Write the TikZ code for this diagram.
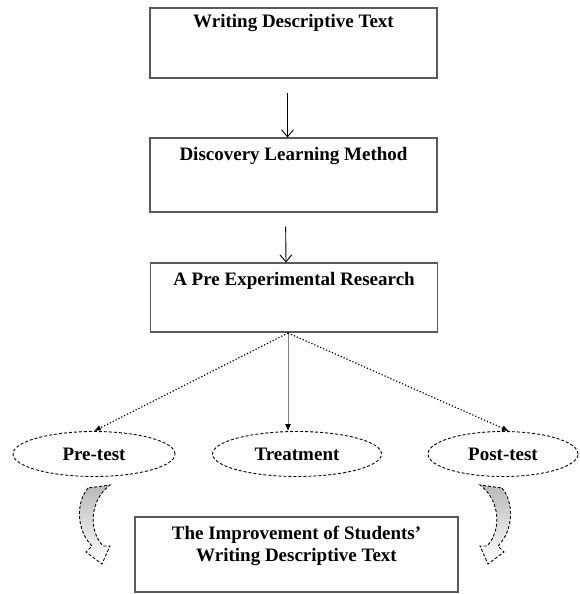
\documentclass[tikz,border=0pt]{standalone}
\usepackage{fontspec}
\setmainfont{Liberation Serif}
\usetikzlibrary{positioning,shapes.geometric,arrows.meta}

\begin{document}
\begin{tikzpicture}[x=1pt, y=-1pt,
    box/.style={rectangle, draw=black!65, line width=1.1pt, minimum width=287pt, minimum height=70pt, inner sep=0pt},
    title/.style={font=\fontsize{19}{22}\selectfont\bfseries},
    phase/.style={ellipse, draw, dash pattern=on 3pt off 2pt, line width=.9pt, minimum height=45pt, inner sep=0pt, font=\fontsize{19}{22}\selectfont\bfseries},
    flow/.style={line width=.9pt, -{Straight Barb[length=7pt,width=12pt]}, shorten <=14pt},
    split/.style={dotted, line width=1.2pt, -{Latex[length=7pt,width=6pt]}},
    stem/.style={draw=gray, line width=.8pt, -{Latex[black,length=7pt,width=6pt]}},
    curvy/.style={draw, dash pattern=on 3pt off 2pt, line width=.9pt, top color=gray!55, bottom color=white}]

    \useasboundingbox (0,0) rectangle (580,594);

    % Boxes of the research flow
    \node[box] (b1) at (293.5,43) {};
    \node[title, below=3pt of b1.north] (t1) {Writing Descriptive Text};
    \node[box, minimum height=74pt] (b2) at (293.5,175) {};
    \node[title, below=6pt of b2.north] (t2) {Discovery Learning Method};
    \node[box, minimum height=69pt] (b3) at (294,297.5) {};
    \node[title, below=6pt of b3.north] (t3) {A Pre Experimental Research};

    % The three phases
    \node[phase, minimum width=162pt] (pre) at (94,454) {Pre-test};
    \node[phase, minimum width=169pt] (treat) at (297,454) {Treatment};
    \node[phase, minimum width=150pt] (post) at (503,454) {Post-test};

    % Outcome
    \node[box, minimum width=323pt, minimum height=75pt] (goal) at (296.5,554.5) {};
    \node[title, align=center, below=6pt of goal.north] (t4) {The Improvement of Students'\\Writing Descriptive Text};

    % Connectors
    \draw[flow] ([xshift=-6pt]b1.south) -- ([xshift=-6pt]b2.north);
    \draw[flow] ([xshift=-8pt]b2.south) -- ([xshift=-8pt]b3.north);
    \coordinate (fork) at (288,333);
    \draw[split] (fork) -- (pre.north);
    \draw[stem] (fork) -- (fork |- treat.north);
    \draw[split] (fork) -- ([xshift=6pt]post.north);

    % Curved arrows towards the outcome
    \path[curvy] (88,488) .. controls (76,502) and (76,530) .. (92,546) -- (86,552) -- (102,564) -- (110,546) -- (103,546) .. controls (88,530) and (90,500) .. (110,485) -- cycle;
    \begin{scope}[xshift=590pt, xscale=-1]
        \path[curvy] (88,488) .. controls (76,502) and (76,530) .. (92,546) -- (86,552) -- (102,564) -- (110,546) -- (103,546) .. controls (88,530) and (90,500) .. (110,485) -- cycle;
    \end{scope}
\end{tikzpicture}
\end{document}
